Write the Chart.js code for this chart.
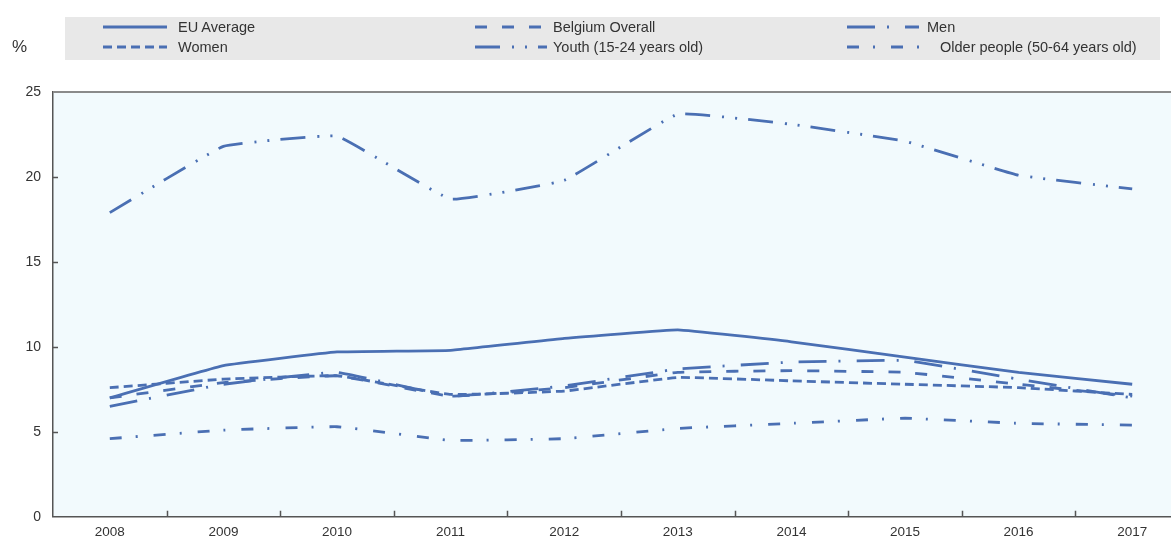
<!DOCTYPE html>
<html>
<head>
<meta charset="utf-8">
<script src="https://cdn.jsdelivr.net/npm/chart.js@4"></script>
<style>
  html, body { margin: 0; padding: 0; background: #fff; overflow: hidden; }
  body { width: 1171px; height: 540px; position: relative; font-family: "Liberation Sans", Arial, sans-serif; }
  #wrap { position: absolute; left: 0; top: 0; width: 1190px; height: 540px; }
  #unit { position: absolute; left: 12px; top: 37px; font-size: 17px; color: #333; }
  #legend { position: absolute; left: 65px; top: 17px; width: 1095px; height: 43px; background: #e8e8e8; }
  .item { position: absolute; height: 20px; font-size: 14.5px; color: #333; white-space: nowrap; line-height: 20px; }
  .item svg { position: absolute; left: 0; top: 4px; }
  .item span { position: absolute; top: 0; }
</style>
</head>
<body>
<div id="wrap"><canvas id="chart"></canvas></div>
<div id="unit">%</div>
<div id="legend"></div>
<script>
// Data
const years = ['2008', '2009', '2010', '2011', '2012', '2013', '2014', '2015', '2016', '2017'];
const euAverage      = [7.0, 8.9, 9.7, 9.8, 10.5, 11.0, 10.3, 9.4, 8.5, 7.8];
const belgiumOverall = [7.0, 7.9, 8.3, 7.1, 7.6, 8.5, 8.6, 8.5, 7.8, 7.1];
const men            = [6.5, 7.8, 8.5, 7.1, 7.7, 8.7, 9.1, 9.2, 8.1, 7.0];
const women          = [7.6, 8.1, 8.3, 7.2, 7.4, 8.2, 8.0, 7.8, 7.6, 7.2];
const youth          = [17.9, 21.8, 22.4, 18.7, 19.8, 23.7, 23.1, 22.1, 20.1, 19.3];
const olderPeople    = [4.6, 5.1, 5.3, 4.5, 4.6, 5.2, 5.5, 5.8, 5.5, 5.4];
const yTicks = [0, 5, 10, 15, 20, 25];

const blue = '#4a6fb3';

const series = [
    { label: 'EU Average', data: euAverage, dash: [] },
    { label: 'Belgium Overall', data: belgiumOverall, dash: [12, 15] },
    { label: 'Men', data: men, dash: [28, 12, 2, 16] },
    { label: 'Women', data: women, dash: [9, 5] },
    { label: 'Youth (15-24 years old)', data: youth, dash: [25, 12, 2, 11, 2, 11] },
    { label: 'Older people (50-64 years old)', data: olderPeople, dash: [12, 14, 2, 16] }
];

// HTML legend, 3 columns x 2 rows
const legendPos = [
    { x: 38, y: 0, tx: 113 }, { x: 410, y: 0, tx: 488 }, { x: 782, y: 0, tx: 862 },
    { x: 38, y: 20, tx: 113 }, { x: 410, y: 20, tx: 488 }, { x: 782, y: 20, tx: 875 }
];
const legendEl = document.getElementById('legend');
series.forEach(function(s, i) {
    const p = legendPos[i];
    const div = document.createElement('div');
    div.className = 'item';
    div.style.left = p.x + 'px';
    div.style.top = p.y + 'px';
    const len = (i === 0 || i === 3) ? 64 : 72;
    div.innerHTML = '<svg width="80" height="12"><line x1="0" y1="6" x2="' + len + '" y2="6" stroke="' + blue +
        '" stroke-width="3" stroke-dasharray="' + (s.dash.length ? s.dash.join(' ') : 'none') + '"/></svg>' +
        '<span style="left:' + (p.tx - p.x) + 'px">' + s.label + '</span>';
    legendEl.appendChild(div);
});

// Plot background, top frame line and inner tick marks
const frame = {
    id: 'frame',
    beforeDraw(chart) {
        const a = chart.chartArea, ctx = chart.ctx;
        ctx.save();
        ctx.fillStyle = '#f2fafd';
        ctx.fillRect(a.left, a.top, a.right - a.left, a.bottom - a.top);
        ctx.restore();
    },
    afterDraw(chart) {
        const a = chart.chartArea, ctx = chart.ctx;
        const x = chart.scales.x, y = chart.scales.y;
        ctx.save();
        ctx.strokeStyle = '#8a8a8a';
        ctx.lineWidth = 2;
        ctx.beginPath();
        ctx.moveTo(a.left, a.top);
        ctx.lineTo(a.right, a.top);
        ctx.stroke();
        ctx.strokeStyle = '#555';
        ctx.lineWidth = 1.5;
        ctx.beginPath();
        for (let i = 0; i < years.length - 1; i++) {
            const px = Math.round((x.getPixelForTick(i) + x.getPixelForTick(i + 1)) / 2) + 0.5;
            ctx.moveTo(px, a.bottom);
            ctx.lineTo(px, a.bottom - 6);
        }
        yTicks.forEach(function(v) {
            if (v === 0 || v === 25) return;
            const py = Math.round(y.getPixelForValue(v)) + 0.5;
            ctx.moveTo(a.left, py);
            ctx.lineTo(a.left + 5, py);
        });
        ctx.stroke();
        ctx.restore();
    }
};

new Chart(document.getElementById('chart'), {
    type: 'line',
    data: {
        labels: years,
        datasets: series.map(function(s) {
            return {
                label: s.label,
                data: s.data,
                borderColor: blue,
                borderWidth: 2.8,
                borderDash: s.dash,
                pointRadius: 0,
                tension: 0.08,
                fill: false
            };
        })
    },
    options: {
        responsive: true,
        maintainAspectRatio: false,
        animation: false,
        layout: { padding: { top: 92, right: 1, left: 0, bottom: -7 } },
        plugins: {
            legend: { display: false },
            tooltip: { enabled: false }
        },
        scales: {
            x: {
                offset: true,
                grid: { display: false, drawTicks: false },
                border: { color: '#555', width: 1.5 },
                ticks: { color: '#333', font: { family: 'Liberation Sans', size: 13.5 }, padding: 7, maxRotation: 0 }
            },
            y: {
                min: 0,
                max: 25,
                afterFit: function(scale) { scale.width = 53; },
                grid: { display: false, drawTicks: false },
                border: { color: '#555', width: 1.5 },
                ticks: { stepSize: 5, color: '#333', font: { family: 'Liberation Sans', size: 14 }, padding: 12 }
            }
        }
    },
    plugins: [frame]
});
</script>
</body>
</html>
